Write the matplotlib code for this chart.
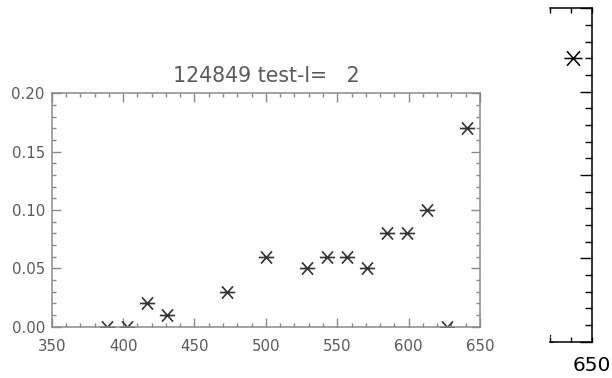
import matplotlib

matplotlib.use("Agg")
import matplotlib.pyplot as plt
from matplotlib.path import Path
from matplotlib.ticker import MultipleLocator

# test-l = 2 response for run 124849
wavelength = [389, 403, 417, 431, 473, 500, 529, 543, 557, 571, 585, 599, 613, 627, 641]
value = [0.00, 0.00, 0.02, 0.01, 0.03, 0.06, 0.05, 0.06, 0.06, 0.05, 0.08, 0.08, 0.10, 0.00, 0.17]
title = "124849 test-l=   2"
x_range = (350, 650)
y_range = (0.0, 0.20)
y_labels = ["0.00", "0.05", "0.10", "0.15", "0.20"]
zoom_range = (630, 650)

plt.rcParams["font.family"] = ["DejaVu Sans"]

# IDL style asterisk: horizontal bar plus two diagonals
STAR = Path(
    [(-1, 0), (1, 0), (-0.72, -0.8), (0.72, 0.8), (-0.72, 0.8), (0.72, -0.8)],
    [Path.MOVETO, Path.LINETO, Path.MOVETO, Path.LINETO, Path.MOVETO, Path.LINETO],
)

W, H = 612, 378
fig = plt.figure(figsize=(W / 100, H / 100), dpi=100, facecolor="white")


def px_axes(left, top, right, bottom):
    return fig.add_axes([left / W, 1 - bottom / H, (right - left) / W, (bottom - top) / H])


# --- main panel ---
grey = "#8a8a8a"
ax = px_axes(51.7, 93.3, 480, 326.7)
ax.plot(wavelength, value, linestyle="none", marker=STAR, markersize=11,
        markeredgewidth=1.2, color="#333333")
ax.set_xlim(*x_range)
ax.set_ylim(*y_range)
ax.xaxis.set_major_locator(MultipleLocator(50))
ax.xaxis.set_minor_locator(MultipleLocator(10))
ax.set_yticks([0.0, 0.05, 0.10, 0.15, 0.20], y_labels)
ax.yaxis.set_minor_locator(MultipleLocator(0.01))
ax.tick_params(which="both", direction="in", top=True, right=True, color=grey,
               width=1, labelcolor="#5a5a5a", labelsize=10.8)
ax.tick_params(which="major", length=6.5)
ax.tick_params(which="minor", length=3.2)
ax.tick_params(axis="x", pad=8.5)
ax.tick_params(axis="y", pad=5)
for spine in ax.spines.values():
    spine.set_color(grey)
    spine.set_linewidth(1.1)
ax.set_title(title, fontsize=14.8, color="#5a5a5a", pad=8)

# --- right panel: close-up of the long-wavelength end ---
ax2 = px_axes(550, 8.3, 591.7, 341.7)
ax2.plot(wavelength, value, linestyle="none", marker=STAR, markersize=13,
         markeredgewidth=1.1, color="black")
ax2.set_xlim(*zoom_range)
ax2.set_ylim(*y_range)
ax2.set_xticks([650], ["650"])
ax2.xaxis.set_minor_locator(MultipleLocator(10))
ax2.yaxis.set_major_locator(MultipleLocator(0.05))
ax2.yaxis.set_minor_locator(MultipleLocator(0.01))
ax2.spines["left"].set_visible(False)
ax2.tick_params(which="both", direction="in", top=True, right=True, left=False,
                labelleft=False, color="black", width=1)
ax2.tick_params(axis="y", which="major", length=8.4)
ax2.tick_params(axis="y", which="minor", length=4.8)
ax2.tick_params(axis="x", which="both", length=3.6, labelsize=14.5, pad=10)
for spine in ax2.spines.values():
    spine.set_linewidth(1.1)

fig.savefig("out.png", dpi=100, facecolor="white")
